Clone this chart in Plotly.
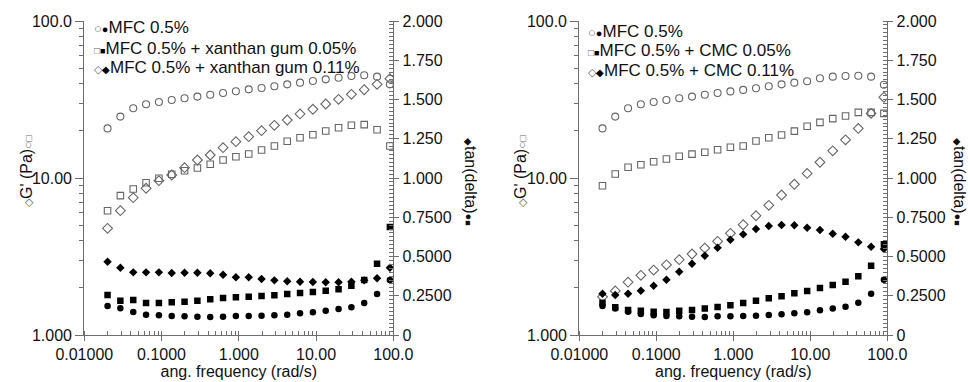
import plotly.graph_objects as go

# ---------------- data ----------------
freq = [0.0200, 0.0293, 0.0430, 0.0630, 0.0924, 0.1354, 0.1985, 0.2910, 0.4266, 0.6254,
        0.9169, 1.344, 1.970, 2.888, 4.234, 6.207, 9.100, 13.34, 19.56, 28.67, 42.03, 61.62, 90.34]

# left panel: MFC + xanthan gum
G_mfc_L = [20.7, 24.6, 27.8, 29.5, 30.5, 31.4, 32.2, 33.0, 33.9, 34.8, 35.7, 36.7, 37.4, 38.4,
           39.5, 40.5, 41.5, 42.5, 43.5, 44.6, 45.1, 44.2, 39.5]
G_xg005 = [6.19, 7.72, 8.51, 9.33, 9.96, 10.56, 11.13, 11.58, 12.23, 13.02, 13.67, 14.22, 15.08,
           15.99, 17.13, 18.06, 18.87, 19.93, 20.91, 21.66, 21.86, 20.30, 16.0]
G_xg011 = [4.78, 6.19, 7.49, 8.60, 9.61, 10.45, 11.63, 13.02, 14.01, 15.6, 17.03, 18.33, 20.01,
           21.66, 23.4, 25.6, 27.4, 29.6, 31.7, 34.1, 36.5, 39.5, 42.9]
tan_mfc_L = [0.185, 0.170, 0.146, 0.129, 0.125, 0.121, 0.119, 0.117, 0.115, 0.117, 0.121, 0.121,
             0.123, 0.125, 0.129, 0.138, 0.145, 0.155, 0.166, 0.176, 0.204, 0.261, 0.350]
tan_xg005 = [0.255, 0.218, 0.223, 0.204, 0.204, 0.208, 0.212, 0.218, 0.227, 0.236, 0.240, 0.244,
             0.248, 0.253, 0.261, 0.268, 0.274, 0.282, 0.291, 0.314, 0.350, 0.454, 0.688]
tan_xg011 = [0.467, 0.429, 0.399, 0.399, 0.399, 0.395, 0.397, 0.397, 0.393, 0.384, 0.368, 0.368,
             0.357, 0.348, 0.342, 0.339, 0.338, 0.336, 0.336, 0.339, 0.348, 0.361, 0.429]

# right panel: MFC + CMC
G_mfc_R = [20.7, 24.6, 27.8, 29.5, 30.5, 31.4, 32.2, 33.0, 33.9, 34.8, 35.6, 36.4, 37.3, 38.4,
           39.5, 40.5, 41.3, 43.2, 44.2, 44.6, 44.8, 44.2, 39.3]
G_cmc005 = [8.93, 10.6, 11.7, 12.15, 12.7, 13.2, 13.75, 14.2, 14.6, 15.15, 15.7, 16.0, 17.2,
            18.06, 18.8, 19.9, 21.35, 22.6, 23.9, 24.8, 26.2, 26.2, 25.8]
G_cmc011 = [1.75, 1.91, 2.17, 2.40, 2.59, 2.80, 3.02, 3.28, 3.58, 3.95, 4.44, 5.04, 5.75, 6.70,
            7.79, 9.12, 10.7, 12.6, 14.9, 17.5, 20.7, 25.8, 32.7]
tan_mfc_R = [0.185, 0.168, 0.148, 0.134, 0.125, 0.121, 0.119, 0.117, 0.115, 0.119, 0.119, 0.121,
             0.123, 0.127, 0.132, 0.138, 0.145, 0.157, 0.168, 0.180, 0.206, 0.263, 0.352]
tan_cmc005 = [0.206, 0.176, 0.159, 0.155, 0.148, 0.146, 0.155, 0.159, 0.168, 0.178, 0.189, 0.204,
              0.218, 0.234, 0.247, 0.266, 0.280, 0.299, 0.318, 0.339, 0.374, 0.441, 0.578]
tan_cmc011 = [0.263, 0.255, 0.263, 0.282, 0.314, 0.352, 0.403, 0.454, 0.505, 0.556, 0.607, 0.641,
              0.675, 0.694, 0.701, 0.699, 0.683, 0.669, 0.645, 0.626, 0.590, 0.562, 0.548]

legend_L = ["MFC 0.5%", "MFC 0.5% + xanthan gum 0.05%", "MFC 0.5% + xanthan gum 0.11%"]
legend_R = ["MFC 0.5%", "MFC 0.5% + CMC 0.05%", "MFC 0.5% + CMC 0.11%"]

x_tickvals = [0.01, 0.1, 1, 10, 100]
x_ticktext = ["0.01000", "0.1000", "1.000", "10.00", "100.0"]
g_tickvals = [1, 10, 100]
g_ticktext = ["1.000", "10.00", "100.0"]
t_tickvals = [0, 0.25, 0.5, 0.75, 1.0, 1.25, 1.5, 1.75, 2.0]
t_ticktext = ["0", "0.2500", "0.5000", "0.7500", "1.000", "1.250", "1.500", "1.750", "2.000"]

# ---------------- styling ----------------
FONT = "Liberation Sans, Arial, Helvetica, sans-serif"
AX = "#6e6e6e"
OPEN = "#666666"
W, H = 970, 382

fig = go.Figure()

def add_panel(xa, ya, ya2, Gs, tans):
    open_syms = ["circle-open", "square-open", "diamond-open"]
    open_sizes = [7, 6.5, 7.5]
    fill_syms = ["circle", "square", "diamond"]
    fill_sizes = [6.5, 6.5, 6.5]
    for G, s, sz in zip(Gs, open_syms, open_sizes):
        fig.add_trace(go.Scatter(x=freq, y=G, mode="markers", xaxis=xa, yaxis=ya,
                                 showlegend=False,
                                 marker=dict(symbol=s, size=sz, color=OPEN, line=dict(width=1.1, color=OPEN))))
    for T, s, sz in zip(tans, fill_syms, fill_sizes):
        fig.add_trace(go.Scatter(x=freq, y=T, mode="markers", xaxis=xa, yaxis=ya2,
                                 showlegend=False,
                                 marker=dict(symbol=s, size=sz, color="black", line=dict(width=0))))

add_panel("x", "y", "y2", [G_mfc_L, G_xg005, G_xg011], [tan_mfc_L, tan_xg005, tan_xg011])
add_panel("x2", "y3", "y4", [G_mfc_R, G_cmc005, G_cmc011], [tan_mfc_R, tan_cmc005, tan_cmc011])

ytop, ybot = 1 - 21 / H, 1 - 335 / H
dL = [84.3 / W, 393.3 / W]
dR = [579.3 / W, 887.3 / W]

tickfont = dict(family=FONT, size=16, color="#111")

def xaxis(domain, anchor):
    return dict(domain=domain, anchor=anchor, type="log", range=[-2, 2], automargin=False,
                showline=True, linecolor=AX, linewidth=1.2, showgrid=False, zeroline=False,
                tickmode="array", tickvals=x_tickvals, ticktext=x_ticktext,
                ticks="outside", ticklen=5, tickcolor=AX, tickfont=tickfont,
                minor=dict(ticks="inside", ticklen=4, tickcolor=AX, dtick="D1", showgrid=False),
                title=dict(text="ang. frequency (rad/s)", font=dict(family=FONT, size=16, color="#111"),
                           standoff=0))

def gaxis(anchor):
    return dict(domain=[ybot, ytop], anchor=anchor, type="log", range=[0, 2], automargin=False,
                showline=True, linecolor=AX, linewidth=1.2, showgrid=False, zeroline=False,
                tickmode="array", tickvals=g_tickvals, ticktext=g_ticktext,
                ticks="outside", ticklen=8, tickcolor=AX, tickfont=tickfont,
                minor=dict(ticks="outside", ticklen=4, tickcolor=AX, dtick="D1", showgrid=False))

def taxis(anchor, over):
    return dict(domain=[ybot, ytop], anchor=anchor, overlaying=over, side="right", range=[0, 2],
                automargin=False,
                showline=True, linecolor=AX, linewidth=1.2, showgrid=False, zeroline=False,
                tickmode="array", tickvals=t_tickvals, ticktext=t_ticktext,
                ticks="outside", ticklen=5, tickcolor=AX, tickfont=tickfont,
                minor=dict(ticks="inside", ticklen=4, tickcolor=AX, dtick=0.025, tick0=0, showgrid=False))

fig.update_layout(
    width=W, height=H, margin=dict(l=0, r=0, t=0, b=0),
    template="none",
    paper_bgcolor="white", plot_bgcolor="white",
    font=dict(family=FONT, size=16, color="#111"),
    showlegend=False,
    xaxis=xaxis(dL, "y"), yaxis=gaxis("x"), yaxis2=taxis("x", "y"),
    xaxis2=xaxis(dR, "y3"), yaxis3=gaxis("x2"), yaxis4=taxis("x2", "y3"),
)

# legends (symbol pairs + text)
sym_pairs = [(("○", 13), ("●", 11)), (("□", 10), ("■", 9)), (("◇", 11), ("◆", 10))]

def legend(labels, x0, ys):
    for ((o, os_), (f, fs)), lab, yy in zip(sym_pairs, labels, ys):
        txt = (f"<span style='font-size:{os_}px;color:{OPEN}'>{o}</span>"
               f"<span style='font-size:{fs}px;color:black'>{f}</span>{lab}")
        fig.add_annotation(xref="paper", yref="paper", x=x0 / W, y=1 - yy / H,
                           xanchor="left", yanchor="middle", showarrow=False, text=txt,
                           font=dict(family=FONT, size=17, color="#111"))

legend(legend_L, 92, [28, 48, 67])
legend(legend_R, 586, [31, 51, 70])

def ytitles(xl, xr):
    left = (f"<span style='font-size:11px;color:{OPEN}'>◇</span>G' (Pa)"
            f"<span style='font-size:12px;color:{OPEN}'>○</span>"
            f"<span style='font-size:10px;color:{OPEN}'>□</span>")
    fig.add_annotation(xref="paper", yref="paper", x=xl / W, y=1 - 172 / H,
                       xanchor="center", yanchor="middle", showarrow=False, textangle=-90,
                       text=left, font=dict(family=FONT, size=16, color="#111"))
    right = ("<span style='font-size:10px'>◆</span>tan(delta)"
             "<span style='font-size:11px'>●</span><span style='font-size:9px'>■</span>")
    fig.add_annotation(xref="paper", yref="paper", x=xr / W, y=1 - 182 / H,
                       xanchor="center", yanchor="middle", showarrow=False, textangle=90,
                       text=right, font=dict(family=FONT, size=16, color="#111"))

ytitles(27, 471)
ytitles(521, 960)

fig.write_html("out.html", config={"displayModeBar": False},
               post_script="document.body.style.margin='0';document.body.style.overflow='hidden';")
